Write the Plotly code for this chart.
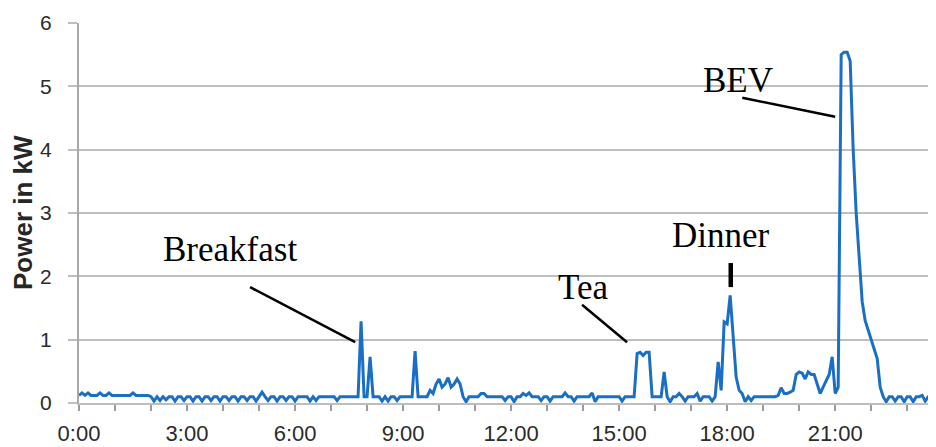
import plotly.graph_objects as go

# 5-minute power readings (kW), one row per hour, 0:00 .. 23:55
power_kw = [
    0.12, 0.16, 0.12, 0.16, 0.12, 0.12, 0.12, 0.16, 0.12, 0.12, 0.16, 0.12,  # 0h
    0.12, 0.12, 0.12, 0.12, 0.12, 0.12, 0.16, 0.12, 0.12, 0.12, 0.12, 0.12,  # 1h
    0.10, 0.03, 0.10, 0.04, 0.10, 0.05, 0.10, 0.10, 0.03, 0.10, 0.10, 0.04,  # 2h
    0.10, 0.10, 0.03, 0.10, 0.10, 0.03, 0.10, 0.10, 0.04, 0.10, 0.10, 0.03,  # 3h
    0.10, 0.10, 0.04, 0.10, 0.10, 0.03, 0.10, 0.10, 0.04, 0.10, 0.10, 0.03,  # 4h
    0.10, 0.17, 0.10, 0.04, 0.10, 0.10, 0.03, 0.10, 0.10, 0.04, 0.10, 0.10,  # 5h
    0.03, 0.10, 0.10, 0.10, 0.10, 0.03, 0.10, 0.04, 0.10, 0.10, 0.10, 0.10,  # 6h
    0.10, 0.10, 0.04, 0.10, 0.10, 0.10, 0.10, 0.10, 0.10, 0.10, 1.29, 0.10,  # 7h
    0.10, 0.73, 0.10, 0.10, 0.10, 0.03, 0.10, 0.03, 0.10, 0.10, 0.04, 0.10,  # 8h
    0.10, 0.10, 0.10, 0.10, 0.82, 0.10, 0.10, 0.10, 0.10, 0.20, 0.15, 0.30,  # 9h
    0.38, 0.25, 0.30, 0.40, 0.25, 0.30, 0.38, 0.30, 0.10, 0.02, 0.10, 0.10,  # 10h
    0.10, 0.10, 0.15, 0.15, 0.10, 0.10, 0.10, 0.10, 0.10, 0.10, 0.04, 0.10,  # 11h
    0.10, 0.02, 0.10, 0.10, 0.15, 0.12, 0.16, 0.10, 0.10, 0.10, 0.04, 0.10,  # 12h
    0.10, 0.03, 0.10, 0.10, 0.10, 0.10, 0.16, 0.10, 0.10, 0.03, 0.10, 0.10,  # 13h
    0.10, 0.10, 0.10, 0.16, 0.02, 0.10, 0.10, 0.10, 0.10, 0.10, 0.10, 0.10,  # 14h
    0.10, 0.03, 0.10, 0.10, 0.10, 0.10, 0.78, 0.80, 0.75, 0.80, 0.80, 0.10,  # 15h
    0.10, 0.10, 0.10, 0.49, 0.10, 0.02, 0.10, 0.10, 0.15, 0.10, 0.03, 0.10,  # 16h
    0.10, 0.10, 0.15, 0.03, 0.10, 0.10, 0.10, 0.03, 0.10, 0.65, 0.20, 1.28,  # 17h
    1.25, 1.70, 1.10, 0.41, 0.20, 0.15, 0.02, 0.10, 0.04, 0.10, 0.10, 0.10,  # 18h
    0.10, 0.10, 0.10, 0.10, 0.10, 0.12, 0.24, 0.15, 0.15, 0.17, 0.20, 0.45,  # 19h
    0.49, 0.47, 0.38, 0.49, 0.45, 0.45, 0.30, 0.15, 0.25, 0.35, 0.45, 0.73,  # 20h
    0.15, 0.25, 5.50, 5.54, 5.54, 5.40, 4.00, 3.00, 2.20, 1.60, 1.30, 1.15,  # 21h
    1.00, 0.88, 0.70, 0.25, 0.10, 0.02, 0.10, 0.10, 0.03, 0.10, 0.10, 0.02,  # 22h
    0.10, 0.10, 0.02, 0.10, 0.10, 0.12, 0.03, 0.10, 0.10, 0.10, 0.10, 0.02,  # 23h
]
time_h = [i * 5 / 60 for i in range(len(power_kw))]

x_tick_vals = [0, 3, 6, 9, 12, 15, 18, 21]
x_tick_text = ["0:00", "3:00", "6:00", "9:00", "12:00", "15:00", "18:00", "21:00"]
y_tick_vals = [0, 1, 2, 3, 4, 5, 6]

# event labels: text, label position (h, kW), pointer line (h0, kW0, h1, kW1)
event_text = ["Breakfast", "Tea", "Dinner", "BEV"]
event_label_pos = [(4.19, 2.42), (14.0, 1.82), (17.83, 2.65), (18.3, 5.1)]
event_pointer = [(4.75, 1.83, 7.67, 0.96), (13.97, 1.55, 15.22, 0.96),
                 (18.1, 2.21, 18.1, 1.83), (18.42, 4.82, 21.0, 4.52)]
pointer_width = [2.5, 2.5, 4.5, 2.5]

fig = go.Figure()
fig.add_trace(go.Scatter(x=time_h, y=power_kw, mode="lines",
                         line=dict(color="#1a6fc4", width=3),
                         hoverinfo="x+y", showlegend=False))

for txt, (lx, ly) in zip(event_text, event_label_pos):
    fig.add_annotation(x=lx, y=ly, xref="x", yref="y", text=txt, showarrow=False,
                       xanchor="center", yanchor="middle",
                       font=dict(family="Liberation Serif", size=35, color="#000000"))
for (x0, y0, x1, y1), w in zip(event_pointer, pointer_width):
    fig.add_shape(type="line", xref="x", yref="y", x0=x0, y0=y0, x1=x1, y1=y1,
                  line=dict(color="#000000", width=w))

fig.add_annotation(x=0, y=0.5, xref="paper", yref="paper", text="<b>Power in kW</b>",
                   textangle=-90, showarrow=False, xanchor="center", yanchor="middle",
                   xshift=-56,
                   font=dict(family="Liberation Sans", size=26, color="#262626"))

# the page body adds an 8px offset, so the figure is sized to the remaining area
fig.update_layout(
    width=928, height=439,
    margin=dict(l=71, r=0, t=15, b=44),
    plot_bgcolor="#ffffff", paper_bgcolor="#ffffff",
    xaxis=dict(range=[0, 23.8], tickvals=x_tick_vals, ticktext=x_tick_text,
               automargin=False,
               showgrid=False, zeroline=False, showline=True, linecolor="#bdbdbd",
               linewidth=2, ticks="outside", ticklen=6, tickcolor="#9a9a9a", tickwidth=1.5,
               minor=dict(ticks="outside", dtick=1, tick0=0, ticklen=6,
                          tickcolor="#9a9a9a", tickwidth=1.5, showgrid=False),
               ticklabelstandoff=4,
               tickfont=dict(family="Liberation Sans", size=22, color="#2b2b2b")),
    yaxis=dict(range=[0, 6], tickvals=y_tick_vals, showgrid=True, gridcolor="#bfbfbf",
               gridwidth=2, zeroline=False, showline=True, linecolor="#a8a8a8",
               linewidth=2, ticks="outside", ticklen=9, tickcolor="#bfbfbf", tickwidth=2,
               automargin=False,
               ticklabelstandoff=12,
               tickfont=dict(family="Liberation Sans", size=21, color="#2b2b2b")),
)

fig.write_html("out.html")
